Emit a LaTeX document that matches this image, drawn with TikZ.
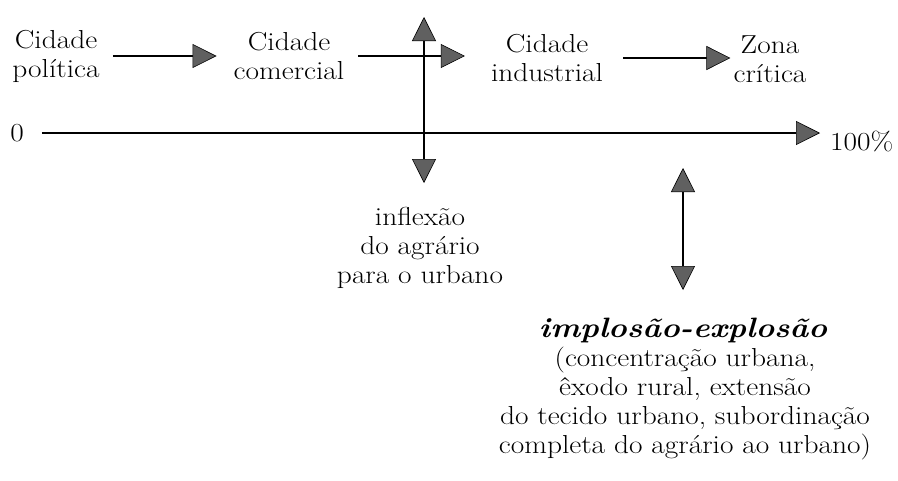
\documentclass[tikz,border=0pt]{standalone}
\usepackage{fontspec}
\setmainfont{Latin Modern Roman}[FakeStretch=1.13]
\usetikzlibrary{arrows.meta}

\begin{document}
\begin{tikzpicture}[
      x=1pt, y=-1pt,
      every node/.style={align=center, inner sep=0pt, font=\fontsize{26}{29}\selectfont},
      seta/.style={line width=2pt, -{Triangle[length=24pt, width=24pt, fill=gray!75!black, line width=0.6pt]}},
      dupla/.style={line width=2pt, {Triangle[length=24pt, width=24pt, fill=gray!75!black, line width=0.6pt]}-{Triangle[length=24pt, width=24pt, fill=gray!75!black, line width=0.6pt]}}
    ]
    \useasboundingbox (0,0) rectangle (898,480);
    % etapas
    \node (politica) at (56,56) {Cidade\\política};
    \node (comercial) at (289,56) {Cidade\\comercial};
    \node (industrial) at (547,58) {Cidade\\industrial};
    \node (zona) at (770,59) {Zona\\crítica};
    \draw[seta, shorten <=13pt, shorten >=17pt] (politica.east) -- (comercial.west);
    \draw[seta, shorten <=14pt, shorten >=26pt] (comercial.east) -- (industrial.west |- comercial.east);
    \draw[seta, shorten <=20pt, shorten >=3pt] (industrial.east) -- (zona.west |- industrial.east);
    % eixo
    \node (zero) at (17,133) {0};
    \node[anchor=west] (cem) at (830,141) {100\%};
    \draw[seta, shorten <=18pt, shorten >=10pt] (zero.east) -- (cem.west |- zero.east);
    % inflexao
    \coordinate (inftopo) at (424,17);
    \coordinate (infbase) at (424,183);
    \draw[dupla] (inftopo) -- (infbase);
    \node (inflexao) at (420,248) {inflexão\\do agrário\\para o urbano};
    % implosao
    \coordinate (imptopo) at (683,168);
    \coordinate (impbase) at (683,290);
    \draw[dupla] (imptopo) -- (impbase);
    \node[anchor=base, font=\fontsize{28}{29}\selectfont\bfseries\itshape] (implosao) at (683,337) {implosão-explosão};
    \node (texto) at (685,404) {(concentração urbana,\\êxodo rural, extensão\\do tecido urbano, subordinação\\completa do agrário ao urbano)};
\end{tikzpicture}
\end{document}
